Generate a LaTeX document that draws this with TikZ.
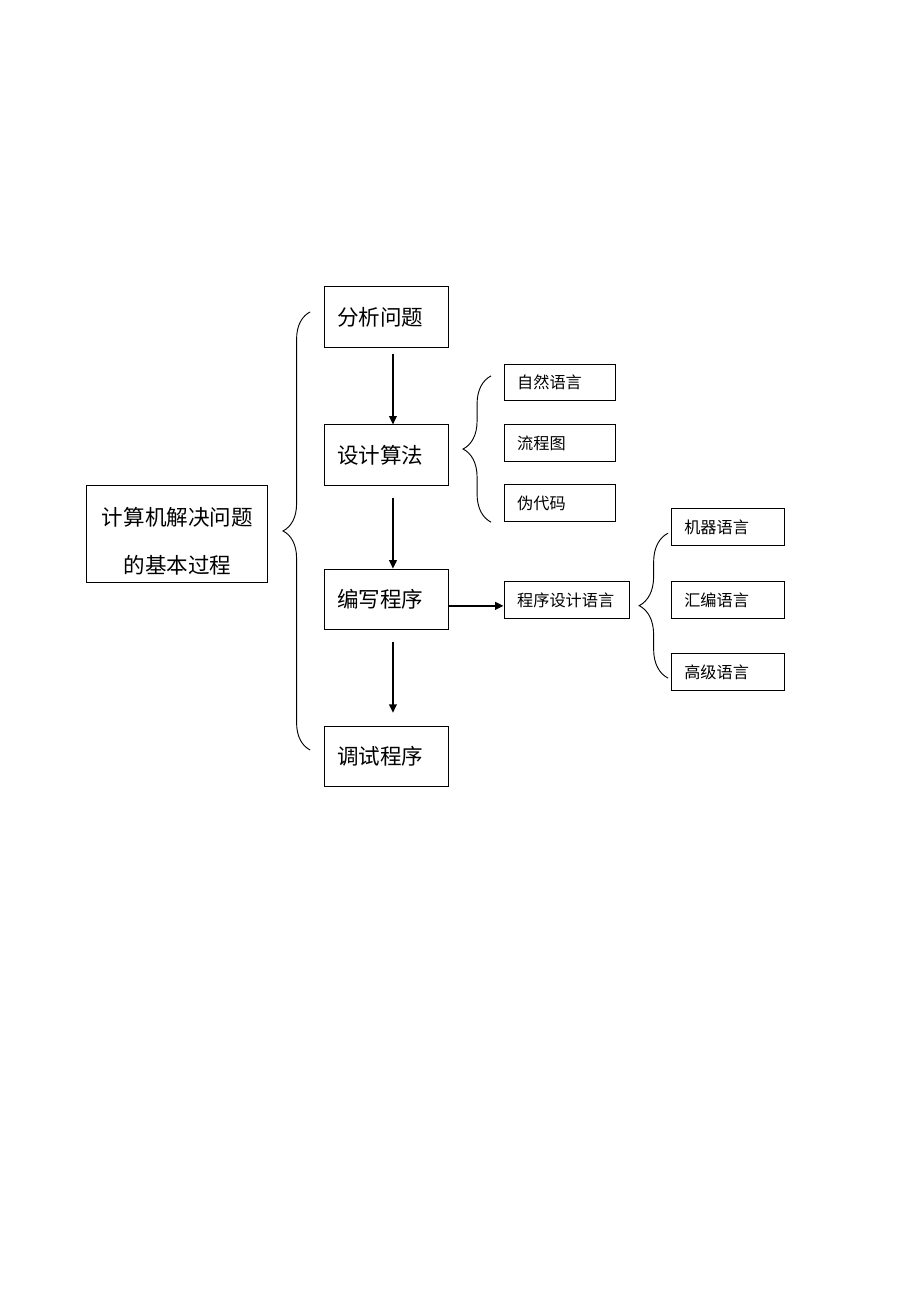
\documentclass[tikz,border=0pt]{standalone}
\usepackage{fontspec}
\setmainfont{Noto Sans CJK SC}
\usetikzlibrary{arrows.meta,decorations.pathreplacing}

\begin{document}
\begin{tikzpicture}[line width=0.6pt,
  mainbox/.style={draw, minimum width=4.13cm, minimum height=2.21cm, align=center, font=\fontsize{14pt}{31pt}\selectfont},
  stepbox/.style={draw, minimum height=1.38cm, text width=2.25cm, inner xsep=0.3cm, align=left, font=\fontsize{14pt}{17pt}\selectfont},
  smallbox/.style={draw, minimum height=0.84cm, text width=#1, inner xsep=0.3cm, align=left, font=\fontsize{10.5pt}{13pt}\selectfont},
  flow/.style={-{Triangle[length=5.5pt,width=5pt]}, line width=1pt},
  curly/.style={decorate, decoration={brace, amplitude=#1}}]
\useasboundingbox (0,0) rectangle (21,29.72);

%%Main box
\node[mainbox] (jc) at (4.05,17.54) {\rule{0pt}{22pt}计算机解决问题\\的基本过程};

%%Steps
\node[stepbox] (fx) at (8.82,22.48) {分析问题};
\node[stepbox] (sj) at (8.82,19.33) {设计算法};
\node[stepbox] (bx) at (8.82,16.04) {编写程序};
\node[stepbox] (ts) at (8.82,12.45) {调试程序};

%%Algorithm forms
\node[smallbox=1.95cm] (zr) at (12.78,20.99) {自然语言};
\node[smallbox=1.95cm] (lc) at (12.78,19.61) {流程图};
\node[smallbox=1.95cm] (wd) at (12.78,18.23) {伪代码};

%%Languages
\node[smallbox=2.27cm] (yy) at (12.94,16.02) {程序设计语言};
\node[smallbox=1.98cm] (jq) at (16.61,17.69) {机器语言};
\node[smallbox=1.98cm] (hb) at (16.61,16.02) {汇编语言};
\node[smallbox=1.98cm] (gj) at (16.61,14.38) {高级语言};

%%Arrows
\draw[flow, shorten <=0.14cm] ([xshift=0.15cm]fx.south) -- ([xshift=0.15cm]sj.north);
\draw[flow, shorten <=0.27cm] ([xshift=0.15cm]sj.south) -- ([xshift=0.15cm]bx.north);
\draw[flow, shorten <=0.27cm, shorten >=0.3cm] ([xshift=0.15cm]bx.south) -- ([xshift=0.15cm]ts.north);
\draw[flow, line width=1.2pt] ([yshift=-0.15cm]bx.east) -- ([yshift=-0.15cm]bx.east -| yy.west);

%%Braces
\coordinate (b1) at (7.08,12.60);
\coordinate (t1) at (7.08,22.60);
\coordinate (b2) at (11.21,17.80);
\coordinate (t2) at (11.21,21.14);
\coordinate (b3) at (15.25,14.24);
\coordinate (t3) at (15.25,17.55);
\draw[curly=0.62cm] (b1) -- (t1);
\draw[curly=0.64cm] (b2) -- (t2);
\draw[curly=0.66cm] (b3) -- (t3);
\end{tikzpicture}
\end{document}
